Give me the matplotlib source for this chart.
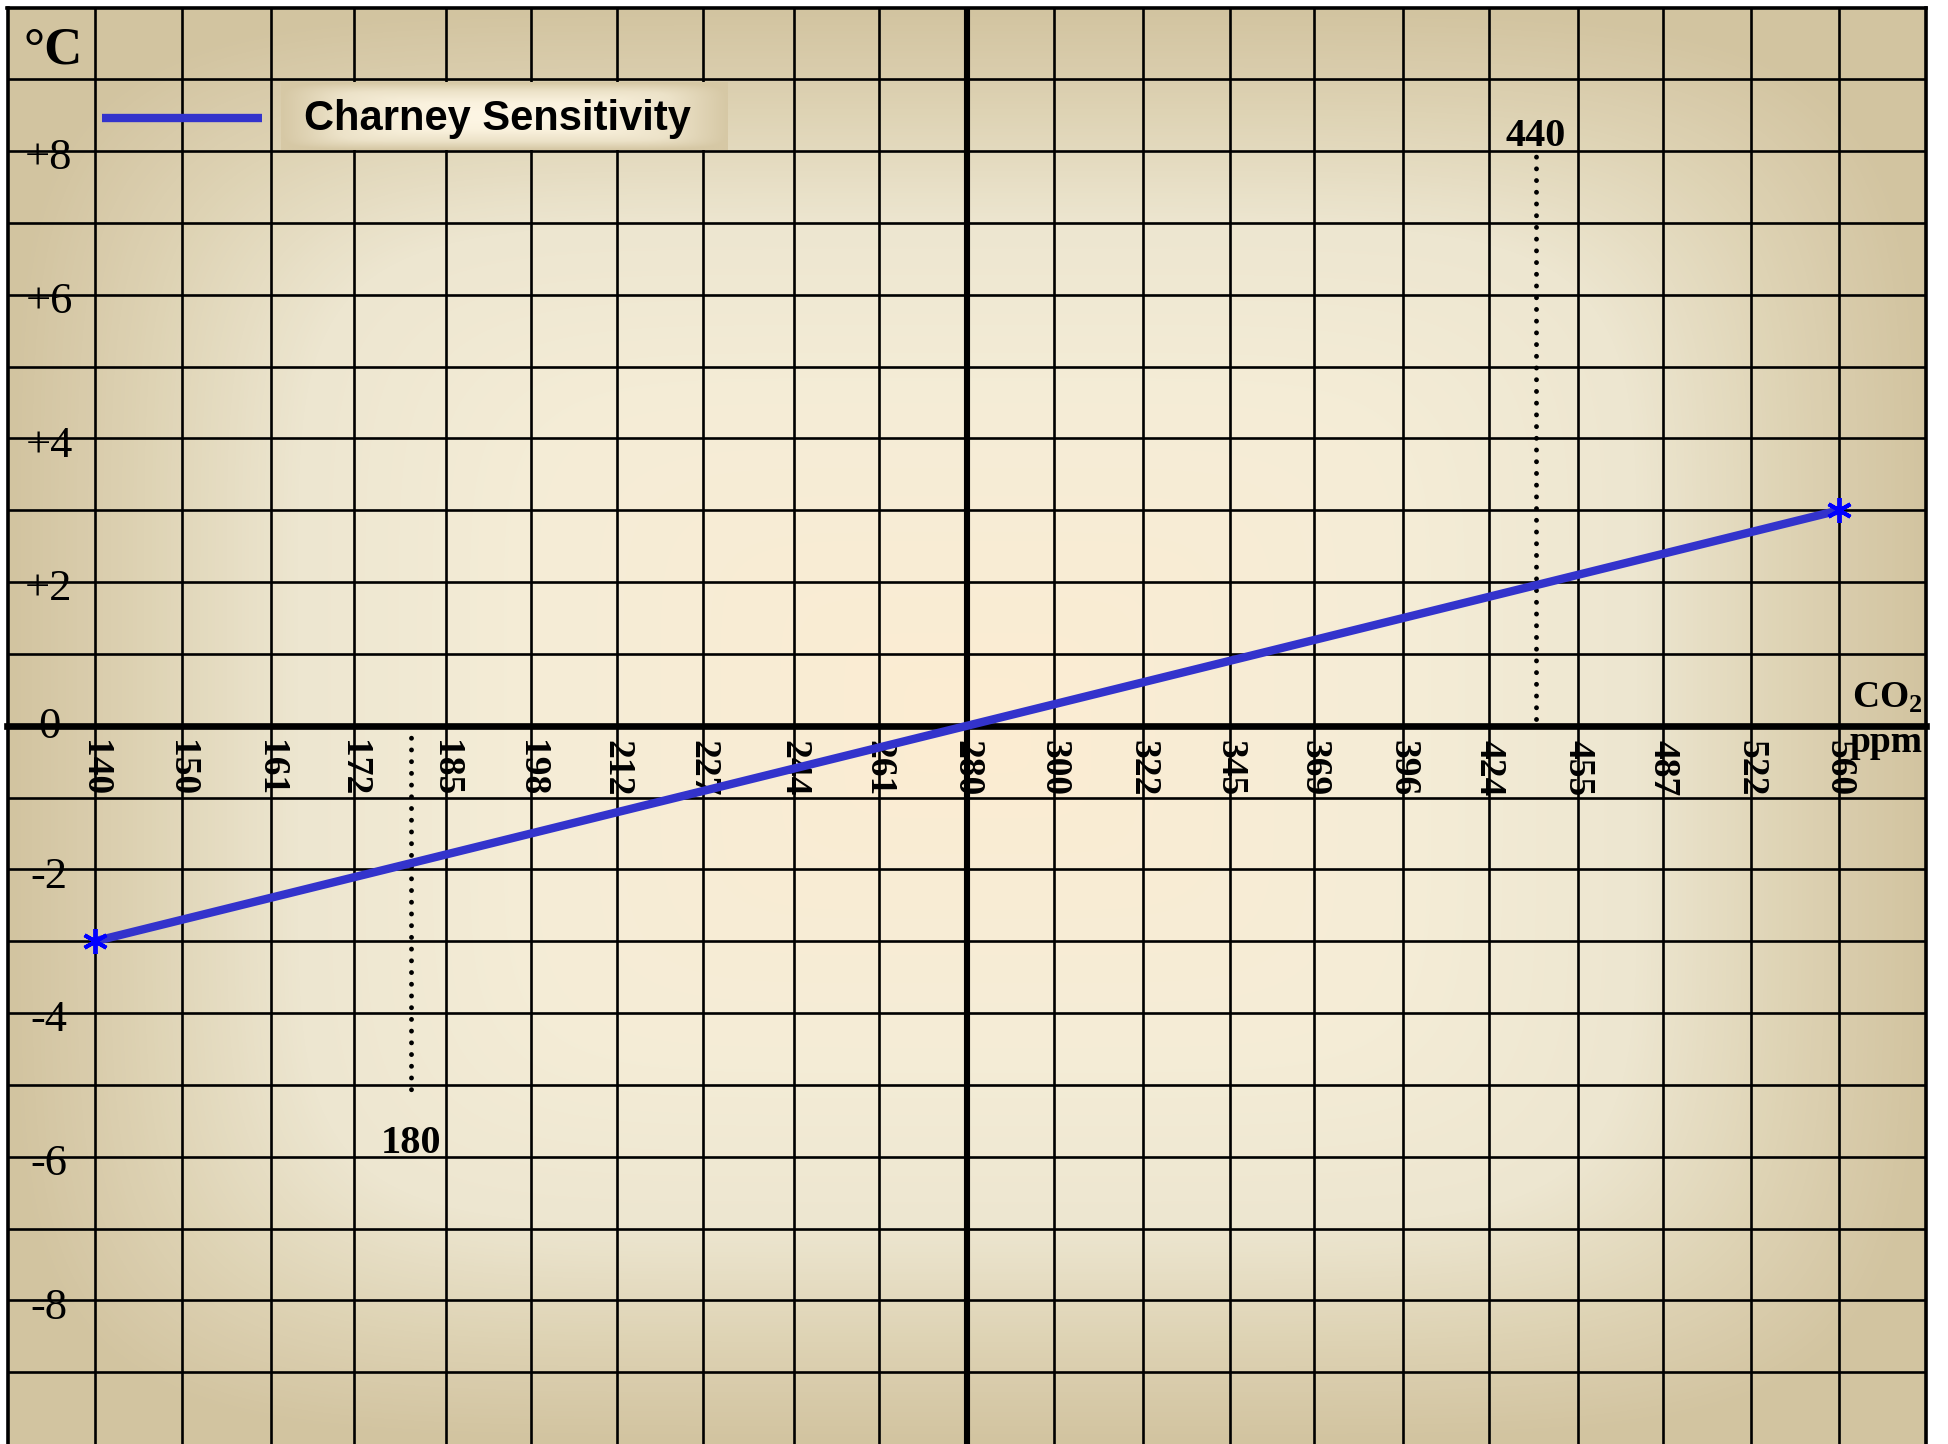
import numpy as np
import matplotlib
matplotlib.use("Agg")
import matplotlib.pyplot as plt
from matplotlib.colors import LinearSegmentedColormap
from matplotlib.transforms import blended_transform_factory
from matplotlib.ticker import NullLocator, FixedLocator, FixedFormatter

# ---------------- data ----------------
co2_ticks = [140, 150, 161, 172, 185, 198, 212, 227, 244, 261, 280,
             300, 322, 345, 369, 396, 424, 455, 487, 522, 560]
temp_ticks = [-8, -6, -4, -2, 0, 2, 4, 6, 8]
temp_labels = ["-8", "-6", "-4", "-2", "0", "+2", "+4", "+6", "+8"]
line_co2 = [140, 280, 560]
line_temp = [-3, 0, 3]
marker_co2 = [140, 560]
marker_temp = [-3, 3]
lgm_co2 = 180
lgm_span = [0, -5.2]
now_co2 = 440
now_span = [0.1, 8.0]
series_label = "Charney Sensitivity"
x_limits = (130.6, 600.0)
y_limits = (-10, 10)

plt.rcParams["mathtext.fontset"] = "custom"
plt.rcParams["mathtext.rm"] = "Liberation Serif:bold"
plt.rcParams["mathtext.it"] = "Liberation Serif:bold"
plt.rcParams["mathtext.bf"] = "Liberation Serif:bold"

W, H = 1948, 1444
fig = plt.figure(figsize=(W / 100, H / 100), dpi=100)
fig.patch.set_facecolor("white")
left_px, right_px, top_px, bot_px = 7.5, 1926.0, 7.5, 1444.0
rect = [left_px / W, 1 - bot_px / H, (right_px - left_px) / W, (bot_px - top_px) / H]

# ---------------- background gradient ----------------
bg_cmap = LinearSegmentedColormap.from_list(
    "paper",
    [(0.0, (210/255, 196/255, 160/255)),
     (0.07, (216/255, 203/255, 170/255)),
     (0.14, (222/255, 211/255, 180/255)),
     (0.30, (237/255, 230/255, 208/255)),
     (0.55, (245/255, 237/255, 215/255)),
     (1.0, (252/255, 236/255, 210/255))])
nx, ny = 600, 450
U, V = np.meshgrid(np.linspace(-1, 1, nx), np.linspace(-1, 1, ny))
p = 6
D = np.clip((np.abs(U) ** p + np.abs(V) ** p) ** (1 / p), 0, 1)
ax_bg = fig.add_axes(rect, zorder=0)
ax_bg.imshow(1 - D, cmap=bg_cmap, vmin=0, vmax=1, aspect="auto",
             extent=[0, 1, 0, 1], interpolation="bilinear")
ax_bg.set_axis_off()

# ---------------- main axes ----------------
ax = fig.add_axes(rect, zorder=1)
ax.patch.set_alpha(0)
ax.set_xscale("log", base=2)
ax.set_xlim(*x_limits)
ax.set_ylim(*y_limits)

ax.xaxis.set_major_locator(FixedLocator(co2_ticks))
ax.xaxis.set_major_formatter(FixedFormatter([str(v) for v in co2_ticks]))
ax.xaxis.set_minor_locator(NullLocator())
ax.yaxis.set_major_locator(FixedLocator(list(range(-9, 10))))
ax.yaxis.set_minor_locator(NullLocator())
ax.tick_params(axis="x", length=0, pad=10, labelsize=27, labelrotation=-90,
               labelfontfamily="Liberation Serif")
ax.tick_params(axis="y", length=0, labelleft=False)

ax.grid(True, which="major", color="black", lw=1.9)
ax.set_axisbelow(True)

for s in ["left", "top", "right"]:
    ax.spines[s].set_linewidth(2.6)
    ax.spines[s].set_color("black")
ax.spines["bottom"].set_position(("data", 0))
ax.spines["bottom"].set_linewidth(4.8)
ax.spines["bottom"].set_color("black")
ax.axvline(280, color="black", lw=4.4, zorder=2)

# y labels inside the left column
ytr = blended_transform_factory(ax.transAxes, ax.transData)
for tv, tl in zip(temp_ticks, temp_labels):
    ax.text(0.0216, tv - (0.02 if tv == 0 else 0.1), tl, transform=ytr,
            ha="center", va="center", fontsize=32, family="Liberation Serif",
            zorder=3)
ax.text(0.0237, 9.40, "°C", transform=ytr, ha="center", va="center",
        fontsize=38, family="Liberation Serif", fontweight="bold")
ax.text(0.998, 0.25, "CO$_2$", transform=ytr, ha="right", va="baseline",
        fontsize=27, family="Liberation Serif", fontweight="bold")
ax.text(0.998, -0.36, "ppm", transform=ytr, ha="right", va="baseline",
        fontsize=27, family="Liberation Serif", fontweight="bold")

# dotted markers
dot_style = dict(color="black", lw=3.5, linestyle=(0, (0.01, 2.4)),
                 dash_capstyle="round", zorder=3)
ax.plot([lgm_co2, lgm_co2], lgm_span, **dot_style)
ax.plot([now_co2, now_co2], now_span, **dot_style)
ax.text(lgm_co2, -5.81, str(lgm_co2), ha="center", va="center", fontsize=29,
        family="Liberation Serif", fontweight="bold")
ax.text(now_co2, 8.07, str(now_co2), ha="center", va="baseline", fontsize=29,
        family="Liberation Serif", fontweight="bold")

# main series
ax.plot(line_co2, line_temp, color="#3333CC", lw=6, solid_capstyle="butt",
        zorder=4, label=series_label)
ax.plot(marker_co2, marker_temp, ls="none", marker=(6, 2, 0), ms=18, mew=2.8,
        color="#0000FF", zorder=5)

# legend: sample line + gradient text box
ax.plot([0.0493, 0.1327], [0.9231, 0.9231], transform=ax.transAxes,
        color="#3333CC", lw=6, solid_capstyle="butt", zorder=5)
box_cmap = LinearSegmentedColormap.from_list(
    "box",
    [(0.0, (214/255, 200/255, 165/255)),
     (0.25, (236/255, 226/255, 200/255)),
     (0.6, (250/255, 242/255, 222/255)),
     (1.0, (254/255, 247/255, 230/255))])
bx0, bw = (281 - left_px) / (right_px - left_px), (728 - 281) / (right_px - left_px)
by0, bh = (bot_px - 150) / (bot_px - top_px), (150 - 82) / (bot_px - top_px)
axb = ax.inset_axes([bx0, by0, bw, bh], zorder=6)
Ub, Vb = np.meshgrid(np.linspace(-1, 1, 300), np.linspace(-1, 1, 60))
Db = np.clip((np.abs(Ub) ** 8 + np.abs(Vb) ** 8) ** (1 / 8), 0, 1)
axb.imshow(1 - Db, cmap=box_cmap, vmin=0, vmax=1, aspect="auto",
           extent=[0, 1, 0, 1], interpolation="bilinear")
axb.set_axis_off()
axb.text(0.485, 0.45, series_label, transform=axb.transAxes, ha="center",
         va="center", fontsize=30, family="Liberation Sans", fontweight="bold",
         color="black")

for lab in ax.get_xticklabels():
    lab.set_fontweight("bold")
    lab.set_fontfamily("Liberation Serif")

fig.savefig("out.png", dpi=100, facecolor="white")
